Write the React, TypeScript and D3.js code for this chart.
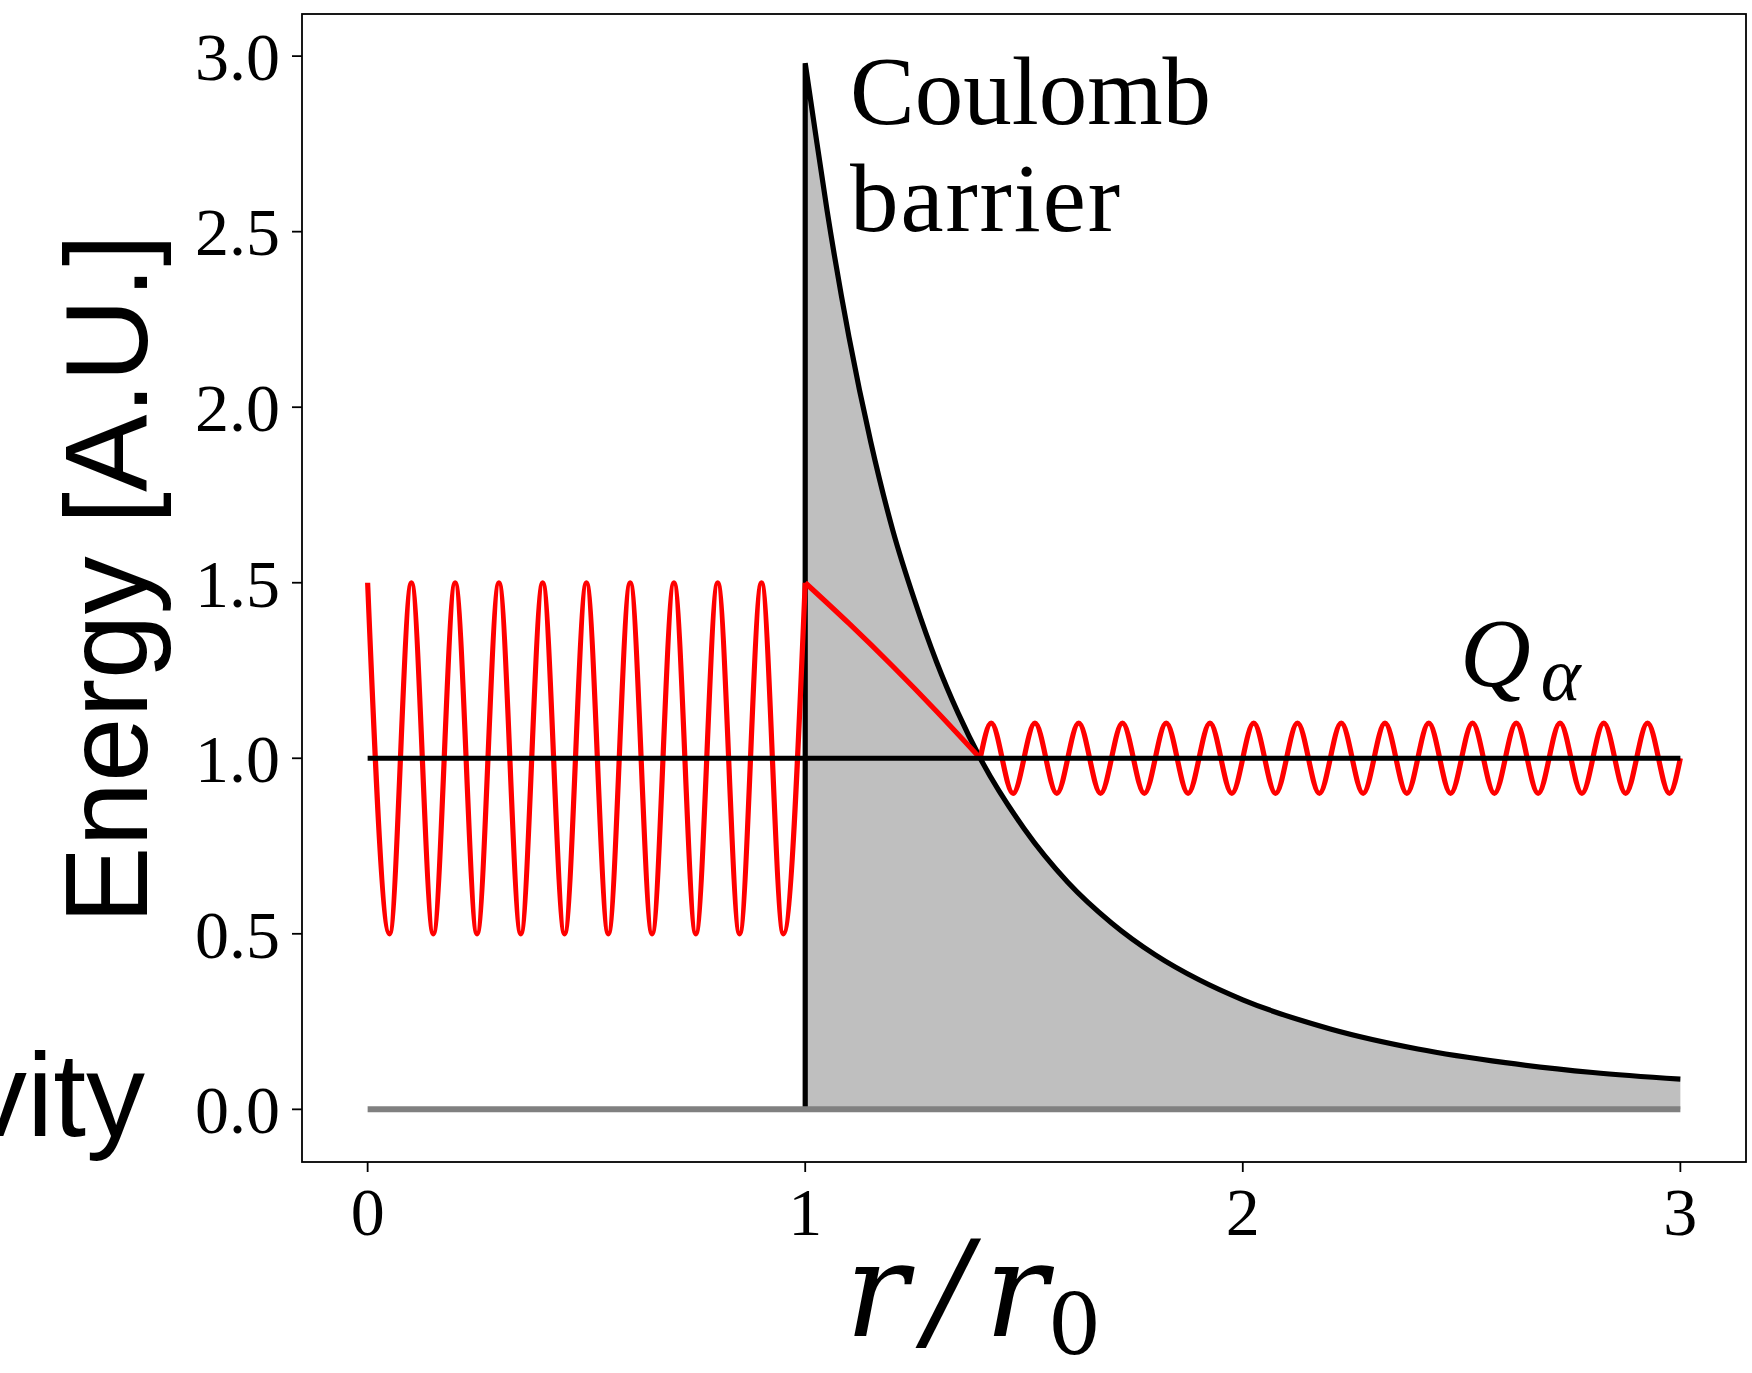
import React from 'react';
import * as d3 from 'd3';

// ---- data ----
const xTicks = [0, 1, 2, 3];
const xTickLabels = ['0', '1', '2', '3'];
const yTicks = [0, 0.5, 1, 1.5, 2, 2.5, 3];
const yTickLabels = ['0.0', '0.5', '1.0', '1.5', '2.0', '2.5', '3.0'];

// Coulomb barrier (black curve + grey fill)
const barrierR = [1.0, 1.02, 1.05, 1.1, 1.15, 1.2, 1.25, 1.3, 1.35, 1.4, 1.5, 1.6, 1.7, 1.8, 1.9, 2.0, 2.2, 2.4, 2.6, 2.8, 3.0];
const barrierV = [2.98, 2.81, 2.56, 2.2, 1.9, 1.65, 1.45, 1.275, 1.127, 1.0, 0.8, 0.647, 0.531, 0.44, 0.369, 0.312, 0.229, 0.172, 0.133, 0.105, 0.086];

// Red wave inside the nucleus (extremes)
const waveInR = [0, 0.05, 0.1, 0.15, 0.2, 0.25, 0.3, 0.35, 0.4, 0.45, 0.5, 0.55, 0.6, 0.65, 0.7, 0.75, 0.8, 0.85, 0.9, 0.95, 1.0];
const waveInV = [1.5, 0.5, 1.5, 0.5, 1.5, 0.5, 1.5, 0.5, 1.5, 0.5, 1.5, 0.5, 1.5, 0.5, 1.5, 0.5, 1.5, 0.5, 1.5, 0.5, 1.5];

// Red tunnelling segment
const tunnelR = [1.0, 1.1, 1.2, 1.3, 1.4];
const tunnelV = [1.5, 1.384, 1.262, 1.134, 1.0];

// Red wave outside (extremes)
const waveOutR = [1.4, 1.425, 1.475, 1.525, 1.575, 1.625, 1.675, 1.725, 1.775, 1.825, 1.875, 1.925, 1.975, 2.025, 2.075, 2.125, 2.175, 2.225, 2.275, 2.325, 2.375, 2.425, 2.475, 2.525, 2.575, 2.625, 2.675, 2.725, 2.775, 2.825, 2.875, 2.925, 2.975, 3.0];
const waveOutV = [1.0, 1.1, 0.9, 1.1, 0.9, 1.1, 0.9, 1.1, 0.9, 1.1, 0.9, 1.1, 0.9, 1.1, 0.9, 1.1, 0.9, 1.1, 0.9, 1.1, 0.9, 1.1, 0.9, 1.1, 0.9, 1.1, 0.9, 1.1, 0.9, 1.1, 0.9, 1.1, 0.9, 1.0];

// Q alpha level and ground line
const qLevel = 1.0;
const groundLevel = 0.0;
const rStart = 0;
const rEnd = 3;
const rWall = 1;

const W = 1752;
const H = 1373;

export default function App() {
  const x = d3.scaleLinear().domain([-0.15, 3.15]).range([302, 1746]);
  const y = d3.scaleLinear().domain([-0.15, 3.12]).range([1162, 14]);

  const pts = (rs: number[], vs: number[]) => rs.map((r, i) => [r, vs[i]] as [number, number]);

  const smooth = d3
    .line<[number, number]>()
    .x((d) => x(d[0]))
    .y((d) => y(d[1]))
    .curve(d3.curveMonotoneX);

  const area = d3
    .area<[number, number]>()
    .x((d) => x(d[0]))
    .y0(() => y(groundLevel))
    .y1((d) => y(d[1]))
    .curve(d3.curveMonotoneX);

  const barrierPts = pts(barrierR, barrierV);
  const barrierCurve = smooth(barrierPts) || '';
  const barrierPath = `M${x(rWall)},${y(groundLevel)}L` + barrierCurve.slice(1);

  const serif = "'Liberation Serif', 'Times New Roman', serif";
  const sans = "'Liberation Sans', Arial, sans-serif";
  const mathFont = "'DejaVu Serif', serif";

  const x0 = x.range()[0];
  const x1 = x.range()[1];
  const yTop = y.range()[1];
  const yBot = y.range()[0];
  const lw = 5.2;

  return (
    <svg width={W} height={H} style={{ position: 'absolute', left: 0, top: 0, background: '#fff' }}>
      <rect x={0} y={0} width={W} height={H} fill="#fff" />
      {/* fill under barrier */}
      <path d={area(barrierPts) || ''} fill="#bfbfbf" stroke="none" />
      {/* barrier line */}
      <path d={barrierPath} fill="none" stroke="#000" strokeWidth={lw} strokeLinejoin="miter" />
      {/* ground line */}
      <line x1={x(rStart)} x2={x(rEnd)} y1={y(groundLevel)} y2={y(groundLevel)} stroke="#808080" strokeWidth={6} />
      {/* red waves */}
      <path d={smooth(pts(waveInR, waveInV)) || ''} fill="none" stroke="#ff0000" strokeWidth={lw} />
      <path d={smooth(pts(tunnelR, tunnelV)) || ''} fill="none" stroke="#ff0000" strokeWidth={lw} />
      <path d={smooth(pts(waveOutR, waveOutV)) || ''} fill="none" stroke="#ff0000" strokeWidth={lw} />
      {/* Q alpha level */}
      <line x1={x(rStart)} x2={x(rEnd)} y1={y(qLevel)} y2={y(qLevel)} stroke="#000" strokeWidth={lw} />

      {/* axes frame */}
      <rect x={x0} y={yTop} width={x1 - x0} height={yBot - yTop} fill="none" stroke="#000" strokeWidth={1.8} />
      {yTicks.map((t, i) => (
        <g key={'y' + i}>
          <line x1={x0 - 10} x2={x0} y1={y(t)} y2={y(t)} stroke="#000" strokeWidth={1.8} />
          <text x={x0 - 22} y={y(t)} dy="0.35em" textAnchor="end" fontFamily={serif} fontSize={68} fill="#000">
            {yTickLabels[i]}
          </text>
        </g>
      ))}
      {xTicks.map((t, i) => (
        <g key={'x' + i}>
          <line x1={x(t)} x2={x(t)} y1={yBot} y2={yBot + 10} stroke="#000" strokeWidth={1.8} />
          <text x={x(t)} y={1235} textAnchor="middle" fontFamily={serif} fontSize={68} fill="#000">
            {xTickLabels[i]}
          </text>
        </g>
      ))}

      {/* annotations */}
      <text x={850} y={124} fontFamily={serif} fontSize={97} fill="#000">Coulomb</text>
      <text x={850} y={231} fontFamily={serif} fontSize={97} fill="#000" textLength={270} lengthAdjust="spacing">barrier</text>
      <text x={1460} y={686} fontFamily={serif} fontSize={98} fontStyle="italic" fill="#000">
        Q
        <tspan fontSize={76} dx={10} dy={14}>α</tspan>
      </text>

      {/* axis labels */}
      <text
        transform={`translate(147, 579) rotate(-90)`}
        textAnchor="middle"
        fontFamily={sans}
        fontSize={116}
        fill="#000"
      >
        Energy [A.U.]
      </text>
      <text x={145} y={1136} textAnchor="end" fontFamily={sans} fontSize={118} fill="#000">
        vity
      </text>
      <text x={845} y={1336} fontFamily={mathFont} fontSize={132} fontStyle="italic" fill="#000">
        r
        <tspan dx={18}>/</tspan>
        <tspan dx={14}>r</tspan>
        <tspan fontStyle="normal" fontSize={84} dy={18}>0</tspan>
      </text>
    </svg>
  );
}
